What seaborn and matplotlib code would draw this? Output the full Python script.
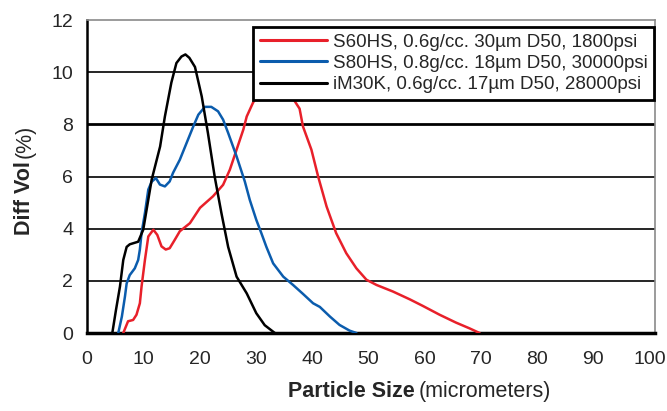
import pandas as pd
import matplotlib.pyplot as plt
import seaborn as sns

# Curve data (particle size in micrometers, diff vol in %)
s60_x = [6.45, 7.3, 8.2, 8.8, 9.4, 9.7, 10.3, 10.9, 11.8, 12.5, 13.25, 14.0, 14.7,
         15.6, 16.5, 18.3, 20.1, 22.4, 24.2, 25.4, 26.6, 27.8, 28.4, 29.5, 31.0,
         33.0, 35.5, 36.9, 37.8, 38.4, 39.9, 41.1, 42.6, 44.3, 46.1, 47.9, 49.7,
         51.5, 54.4, 57.4, 59.7, 62.7, 65.6, 68.0, 69.8]
s60_y = [0.0, 0.45, 0.5, 0.7, 1.14, 1.78, 2.8, 3.7, 3.96, 3.76, 3.32, 3.2, 3.25,
         3.57, 3.9, 4.21, 4.8, 5.24, 5.68, 6.26, 7.03, 7.8, 8.3, 8.82, 9.4,
         9.7, 9.4, 8.9, 8.6, 7.92, 7.03, 6.0, 4.85, 3.83, 3.06, 2.48, 2.04,
         1.84, 1.59, 1.29, 1.04, 0.7, 0.4, 0.18, 0.0]

s80_x = [5.56, 6.2, 6.75, 7.05, 7.6, 8.5, 9.1, 9.4, 9.7, 10.3, 10.9, 11.5, 12.25,
         12.97, 13.85, 14.7, 15.3, 16.5, 17.7, 18.9, 19.8, 20.96, 22.1, 23.3, 24.2,
         25.1, 26.6, 28.06, 28.95, 30.1, 31.0, 31.9, 33.1, 34.9, 36.65, 38.4, 40.2,
         41.4, 43.2, 44.9, 46.7, 47.9]
s80_y = [0.0, 0.63, 1.4, 1.9, 2.22, 2.48, 2.8, 3.2, 3.83, 4.6, 5.5, 5.8, 5.94,
         5.69, 5.62, 5.81, 6.14, 6.64, 7.28, 7.92, 8.37, 8.67, 8.67, 8.5, 8.18,
         7.67, 6.77, 5.81, 5.1, 4.34, 3.83, 3.3, 2.67, 2.16, 1.84, 1.5, 1.14,
         1.0, 0.63, 0.31, 0.09, 0.0]

im30_x = [4.5, 5.15, 5.86, 6.45, 7.05, 7.6, 9.1, 10.0, 11.5, 13.0, 13.85, 15.0,
          15.9, 16.8, 17.5, 18.2, 19.2, 20.4, 21.5, 22.7, 23.9, 25.1, 26.6, 28.4,
          30.1, 31.6, 33.4]
im30_y = [0.0, 0.88, 1.78, 2.8, 3.3, 3.4, 3.5, 3.96, 5.88, 7.15, 8.3, 9.6,
          10.35, 10.6, 10.68, 10.55, 10.2, 9.07, 7.67, 6.0, 4.6, 3.3, 2.16, 1.52,
          0.76, 0.3, 0.0]

labels = ["S60HS, 0.6g/cc. 30\u00b5m D50, 1800psi",
          "S80HS, 0.8g/cc. 18\u00b5m D50, 30000psi",
          "iM30K, 0.6g/cc. 17\u00b5m D50, 28000psi"]
colors = ["#e8202a", "#0b5cad", "#000000"]
x_ticks = list(range(0, 101, 10))
y_ticks = list(range(0, 13, 2))

df = pd.concat([
    pd.DataFrame({"size": s60_x, "vol": s60_y, "sample": labels[0]}),
    pd.DataFrame({"size": s80_x, "vol": s80_y, "sample": labels[1]}),
    pd.DataFrame({"size": im30_x, "vol": im30_y, "sample": labels[2]}),
])

sns.set_style("white")
plt.rcParams["font.family"] = ["Liberation Sans", "DejaVu Sans"]

fig = plt.figure(figsize=(6.67, 4.11), dpi=100)
ax = fig.add_axes([87 / 667, 78 / 411, 568 / 667, 313 / 411])

# horizontal grid lines
for yv in y_ticks[1:-1]:
    ax.axhline(yv, color="black", lw=2.0 if yv == 8 else 1.2, zorder=1)

sns.lineplot(data=df, x="size", y="vol", hue="sample", palette=colors,
             sort=False, estimator=None, lw=1.8, ax=ax, zorder=3)

ax.set_xlim(0, 101)
ax.set_ylim(0, 12)
ax.set_xticks(x_ticks)
ax.set_yticks(y_ticks)
ax.tick_params(axis="both", labelsize=14, length=6, width=1.2, direction="out",
               color="black", pad=7)
ax.tick_params(axis="y", pad=4)
ax.set_xlabel("")
ax.set_ylabel("")

for side in ["top", "right"]:
    ax.spines[side].set_color("#8a8a8a")
    ax.spines[side].set_linewidth(1.2)
ax.spines["left"].set_color("black")
ax.spines["left"].set_linewidth(1.8)
ax.spines["bottom"].set_color("black")
ax.spines["bottom"].set_linewidth(2.5)

leg = ax.legend(loc="upper right", bbox_to_anchor=(0.9985, 0.978), fontsize=13.5,
                frameon=True, fancybox=False, framealpha=1, edgecolor="black",
                handlelength=3.6, handletextpad=0.3, borderpad=0.35,
                labelspacing=0.22, borderaxespad=0)
leg.get_frame().set_linewidth(2)
leg.set_zorder(5)
for line in leg.get_lines():
    line.set_linewidth(2.2)

# axis titles: bold part plus regular part
fig.text(415 / 667, 1 - 391 / 411, "Particle Size", ha="right", va="center",
         fontsize=15.5, fontweight="bold")
fig.text(419 / 667, 1 - 391 / 411, "(micrometers)", ha="left", va="center",
         fontsize=15.5)
fig.text(25 / 667, 1 - 161 / 411, "Diff Vol", ha="center", va="top",
         rotation=90, fontsize=15.5, fontweight="bold")
fig.text(25 / 667, 1 - 158 / 411, "(%)", ha="center", va="bottom",
         rotation=90, fontsize=15.5)

fig.savefig("out.png", dpi=100)
